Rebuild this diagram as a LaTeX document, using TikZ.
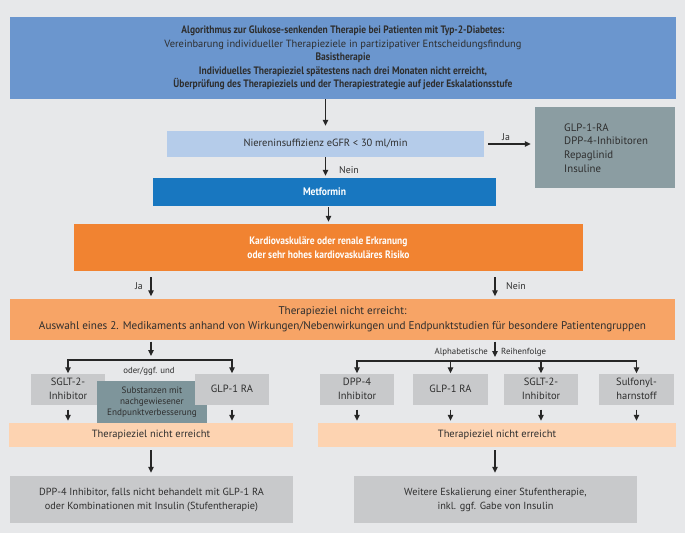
\documentclass[tikz,border=0pt]{standalone}
\usepackage{fontspec}
\usepackage{graphicx}
\setmainfont{PT Sans}
\newfontfamily\condfont[FakeStretch=0.88]{PT Sans}
\usetikzlibrary{arrows.meta}
\newcommand{\fitw}[2]{\resizebox{#1pt}{!}{#2}}
\definecolor{bg}{HTML}{E7E8EA}
\definecolor{topblue}{HTML}{6B96CE}
\definecolor{lightblue}{HTML}{B5CCEA}
\definecolor{grayblue}{HTML}{8B9DA2}
\definecolor{metblue}{HTML}{1877C0}
\definecolor{orangeA}{HTML}{F18331}
\definecolor{orangeB}{HTML}{F7A466}
\definecolor{lgray}{HTML}{C8C9CB}
\definecolor{subst}{HTML}{7E959B}
\definecolor{peach}{HTML}{FDD3B1}
\definecolor{txt}{HTML}{2E2E2E}
\begin{document}
\begin{tikzpicture}[x=1pt,y=-1pt,
  box/.style={draw=none, inner sep=0pt, align=center, text=txt, font=\fontsize{10.5}{14}\selectfont},
  arr/.style={-{Triangle[length=6pt,width=5.5pt]}, line width=1.2pt, draw=black!85},
  arrtwo/.style={{Triangle[length=6pt,width=5.5pt]}-{Triangle[length=6pt,width=5.5pt]}, line width=1.2pt, draw=black!85},
  lbl/.style={inner sep=0pt, text=txt, font=\fontsize{9.8}{11}\selectfont},
  small/.style={inner sep=0pt, text=txt, font=\fontsize{8.8}{10}\selectfont}]
\fill[bg] (0,0) rectangle (685,533);
\useasboundingbox (0,0) rectangle (685,533);

% top
\node[box, fill=topblue, minimum width=666pt, minimum height=82pt, font=\fontsize{10.5}{13.6}\selectfont] (top) at (343,58)
 {\fitw{323}{\condfont\bfseries Algorithmus zur Glukose-senkenden Therapie bei Patienten mit Typ-2-Diabetes:}\\
  \fitw{357}{Vereinbarung individueller Therapieziele in partizipativer Entscheidungsfindung}\\
  \fitw{55}{\condfont\bfseries Basistherapie}\\
  \fitw{288}{\condfont\bfseries Individuelles Therapieziel spätestens nach drei Monaten nicht erreicht,}\\
  \fitw{339}{\condfont\bfseries Überprüfung des Therapieziels und der Therapiestrategie auf jeder Eskalationsstufe}};

\node[box, fill=lightblue, minimum width=317pt, minimum height=26pt] (nier) at (325.5,144) {\fitw{164}{Niereninsuffizienz eGFR < 30 ml/min}};
\node[box, fill=grayblue, minimum width=140pt, minimum height=81pt] (gr) at (605,147.5) {};
\node[box, anchor=west, align=left, font=\fontsize{10.8}{13.8}\selectfont] (grtext) at (564,148) {GLP-1-RA\\DPP-4-Inhibitoren\\Repaglinid\\Insuline};
\node[box, fill=metblue, text=white, minimum width=343pt, minimum height=28pt, font=\fontsize{10.9}{13}\selectfont] (met) at (324.5,192) {\fitw{43}{\condfont\bfseries Metformin}};
\node[box, fill=orangeA, text=white, minimum width=509pt, minimum height=47pt, font=\fontsize{10.5}{14}\selectfont] (kard) at (328.5,247.5)
 {\fitw{158}{\condfont\bfseries Kardiovaskuläre oder renale Erkranung}\\ \fitw{162}{\condfont\bfseries oder sehr hohes kardiovaskuläres Risiko}};
\node[box, fill=orangeB, minimum width=665pt, minimum height=41pt] (ziel) at (342.5,319)
 {\fitw{607}{\fontsize{10.5}{13.8}\selectfont\begin{tabular}{@{}c@{}}Therapieziel nicht erreicht:\\Auswahl eines 2. Medikaments anhand von Wirkungen/Nebenwirkungen und Endpunktstudien für besondere Patientengruppen\end{tabular}}};

% left branch
\node[box, fill=lgray, minimum width=74pt, minimum height=31pt, font=\fontsize{10.5}{14}\selectfont] (sgltL) at (68,389) {SGLT-2-\\Inhibitor};
\node[box, fill=subst, minimum width=110pt, minimum height=43pt, font=\fontsize{9.2}{11}\selectfont] (subL) at (152,402.5) {Substanzen mit\\nachgewiesener\\Endpunktverbesserung};
\node[box, fill=lgray, minimum width=74pt, minimum height=31pt, font=\fontsize{10.5}{14}\selectfont] (glpL) at (232,389) {GLP-1 RA};
\node[small] (oder) at (149,371) {oder/ggf. und};
\node[box, fill=peach, minimum width=284pt, minimum height=24pt, font=\fontsize{10.5}{12}\selectfont] (peachL) at (151,435) {Therapieziel nicht erreicht};
\node[box, fill=lgray, minimum width=283pt, minimum height=47pt, font=\fontsize{10.3}{14}\selectfont] (botL) at (151.5,499.5)
 {DPP-4 Inhibitor, falls nicht behandelt mit GLP-1 RA\\oder Kombinationen mit Insulin (Stufentherapie)};

% right branch
\node[box, fill=lgray, minimum width=74pt, minimum height=31pt, font=\fontsize{10.5}{14}\selectfont] (dpp) at (357,389) {DPP-4\\Inhibitor};
\node[box, fill=lgray, minimum width=75pt, minimum height=31pt, font=\fontsize{10.5}{14}\selectfont] (glpR) at (450.5,389) {GLP-1 RA};
\node[box, fill=lgray, minimum width=74pt, minimum height=31pt, font=\fontsize{10.5}{14}\selectfont] (sgltR) at (541,389) {SGLT-2-\\Inhibitor};
\node[box, fill=lgray, minimum width=75pt, minimum height=31pt, font=\fontsize{10.5}{14}\selectfont] (sulf) at (636.5,389) {Sulfonyl-\\harnstoff};
\node[small, anchor=east] (alpha) at (488,352) {Alphabetische};
\node[small, anchor=west] (reihe) at (501,352) {Reihenfolge};
\node[box, fill=peach, minimum width=358pt, minimum height=24pt, font=\fontsize{10.5}{12}\selectfont] (peachR) at (497,435) {Therapieziel nicht erreicht};
\node[box, fill=lgray, minimum width=283pt, minimum height=47pt, font=\fontsize{10.3}{14}\selectfont] (botR) at (495.5,499.5)
 {Weitere Eskalierung einer Stufentherapie,\\inkl. ggf. Gabe von Insulin};

% coordinates
\coordinate (jL) at (151,360);
\coordinate (jR) at (495,361);
\coordinate (jaX) at (151,0);
\coordinate (neinX) at (495,0);

% connectors
\draw[arr, shorten >=5pt] (top.south -| nier) -- (nier.north);
\draw[arr, shorten <=4pt, shorten >=4pt] (nier.east) -- (nier.east -| gr.west);
\node[lbl, anchor=south] (ja1) at (506,141) {Ja};
\draw[arr, shorten >=2pt] (nier.south) -- (nier.south |- met.north);
\node[lbl, anchor=west] (nein1) at (339,170) {Nein};
\draw[arr, shorten <=1pt, shorten >=2pt] (met.south -| kard) -- (kard.north);
\draw[arr, shorten <=6pt, shorten >=2pt] (kard.south -| jaX) -- (ziel.north -| jaX);
\node[lbl, anchor=east] (ja2) at (143,286) {Ja};
\draw[arr, shorten <=6pt, shorten >=2pt] (kard.south -| neinX) -- (ziel.north -| neinX);
\node[lbl, anchor=west] (nein2) at (506,286) {Nein};

\draw[arr, shorten <=2pt, shorten >=4pt] (ziel.south -| jL) -- (jL);
\draw[arrtwo] (sgltL.north) |- (jL) -| (glpL.north);
\draw[arr, shorten <=2pt, shorten >=4pt] (ziel.south -| jR) -- (jR);
\draw[arrtwo] (dpp.north) |- (jR) -| (sulf.north);
\draw[arr] (glpR.north |- jR) -- (glpR.north);
\draw[arr] (sgltR.north |- jR) -- (sgltR.north);

\draw[arr, shorten <=5pt, shorten >=2pt] (sgltL.south) -- (sgltL.south |- peachL.north);
\draw[arr, shorten <=5pt, shorten >=2pt] (glpL.south) -- (glpL.south |- peachL.north);
\draw[arr, shorten <=5pt, shorten >=2pt] (dpp.south) -- (dpp.south |- peachR.north);
\draw[arr, shorten <=5pt, shorten >=2pt] (glpR.south) -- (glpR.south |- peachR.north);
\draw[arr, shorten <=5pt, shorten >=2pt] (sgltR.south) -- (sgltR.south |- peachR.north);
\draw[arr, shorten <=5pt, shorten >=2pt] (sulf.south) -- (sulf.south |- peachR.north);

\draw[arr, shorten <=3pt, shorten >=3pt] (peachL.south) -- (peachL.south |- botL.north);
\draw[arr, shorten <=3pt, shorten >=3pt] (peachR.south -| jR) -- (botR.north -| jR);
\end{tikzpicture}
\end{document}
